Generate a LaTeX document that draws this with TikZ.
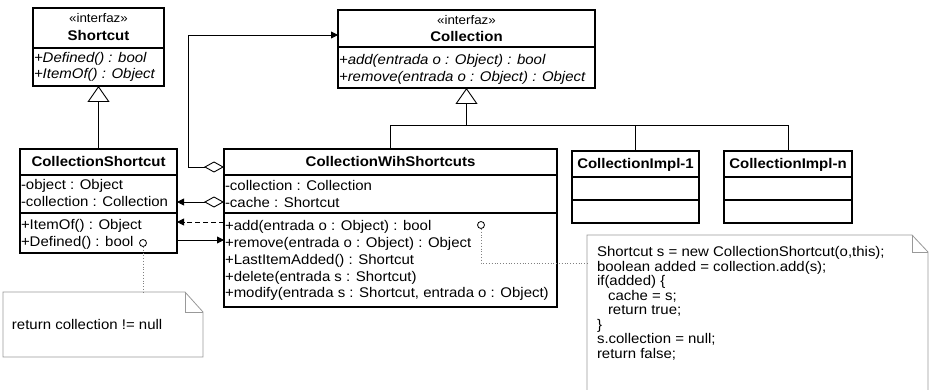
\documentclass[tikz,border=0pt]{standalone}
\usepackage{fontspec}
\setmainfont{Liberation Sans}[FakeStretch=1.07]
\usetikzlibrary{arrows.meta,calc}
\tikzset{
  box/.style={draw, line width=1.2pt, anchor=north west, inner sep=0pt, outer sep=0pt},
  sepline/.style={line width=1.2pt},
  lbl/.style={anchor=base west, inner sep=0pt, outer sep=0pt},
  ilbl/.style={lbl, font=\fontsize{14}{17}\selectfont\itshape},
  ttl/.style={anchor=base, inner sep=0pt, outer sep=0pt, font=\fontsize{14}{17}\selectfont\bfseries},
  ster/.style={anchor=base, inner sep=0pt, outer sep=0pt, font=\fontsize{12.5}{14}\selectfont},
  conn/.style={line width=0.9pt},
  nav/.style={conn, -{Triangle[length=7pt,width=7pt]}},
  agg/.style={conn, {Diamond[open,length=20pt,width=11pt]}-{Triangle[length=7pt,width=7pt]}},
  gen/.style={conn, -{Triangle[open,length=16pt,width=22pt,fill=white]}},
  dotline/.style={gray, line width=0.8pt, dotted},
  notebox/.style={anchor=north west, inner sep=0pt, outer sep=0pt},
  noteline/.style={draw=gray!80, line width=0.8pt},
  knob/.style={circle, draw, line width=0.8pt, inner sep=0pt, minimum size=7pt}
}
\begin{document}
\begin{tikzpicture}[x=1pt,y=-1pt,font=\fontsize{14}{17}\selectfont]
\useasboundingbox[fill=white] (0,0) rectangle (933,390);

% ---------- Shortcut ----------
\node[box, minimum width=131pt, minimum height=78pt] (sc) at (33,8) {};
\draw[sepline] ($(sc.north west)+(0,40)$) -- ($(sc.north east)+(0,40)$);
\node[ster] (scS) at (98.5,22.5) {«interfaz»};
\node[ttl] (scT) at (98.5,41) {Shortcut};
\node[ilbl] (scO1) at (34,62.5) {+Defined() : bool};
\node[ilbl] (scO2) at (34,78.5) {+ItemOf() : Object};

% ---------- Collection ----------
\node[box, minimum width=257pt, minimum height=78pt] (coll) at (338,10) {};
\draw[sepline] ($(coll.north west)+(0,37)$) -- ($(coll.north east)+(0,37)$);
\node[ster] (colS) at (466.5,24.5) {«interfaz»};
\node[ttl] (colT) at (466.5,42) {Collection};
\node[ilbl] (colO1) at (339,64.5) {+add(entrada o : Object) : bool};
\node[ilbl] (colO2) at (339,81.5) {+remove(entrada o : Object) : Object};

% ---------- CollectionShortcut ----------
\node[box, minimum width=157pt, minimum height=104pt] (cs) at (20,149) {};
\draw[sepline] ($(cs.north west)+(0,26)$) -- ($(cs.north east)+(0,26)$);
\draw[sepline] ($(cs.north west)+(0,64)$) -- ($(cs.north east)+(0,64)$);
\node[ttl] (csT) at (98.5,167) {CollectionShortcut};
\node[lbl] (csA1) at (21,189.5) {-object : Object};
\node[lbl] (csA2) at (21,206.5) {-collection : Collection};
\node[lbl] (csO1) at (21,229.5) {+ItemOf() : Object};
\node[lbl] (csO2) at (21,246.5) {+Defined() : bool};
\node[knob] (k1) at (143,243) {};

% ---------- CollectionWihShortcuts ----------
\node[box, minimum width=333pt, minimum height=158pt] (cws) at (224,149) {};
\draw[sepline] ($(cws.north west)+(0,26)$) -- ($(cws.north east)+(0,26)$);
\draw[sepline] ($(cws.north west)+(0,64)$) -- ($(cws.north east)+(0,64)$);
\node[ttl] (cwsT) at (390.5,167) {CollectionWihShortcuts};
\node[lbl] (cwsA1) at (225,190.5) {-collection : Collection};
\node[lbl] (cwsA2) at (225,207.5) {-cache : Shortcut};
\node[lbl] (cwsO1) at (225,230.5) {+add(entrada o : Object) : bool};
\node[lbl] (cwsO2) at (225,247.5) {+remove(entrada o : Object) : Object};
\node[lbl] (cwsO3) at (225,264.5) {+LastItemAdded() : Shortcut};
\node[lbl] (cwsO4) at (225,281.5) {+delete(entrada s : Shortcut)};
\node[lbl] (cwsO5) at (225,297.5) {+modify(entrada s : Shortcut, entrada o : Object)};
\node[knob] (k2) at (481,225) {};

% ---------- CollectionImpl-1 / -n ----------
\node[box, minimum width=127pt, minimum height=72pt] (im1) at (572,151) {};
\draw[sepline] ($(im1.north west)+(0,26)$) -- ($(im1.north east)+(0,26)$);
\draw[sepline] ($(im1.north west)+(0,49)$) -- ($(im1.north east)+(0,49)$);
\node[ttl] (im1T) at (635.5,168) {CollectionImpl-1};
\node[box, minimum width=128pt, minimum height=72pt] (imn) at (724,151) {};
\draw[sepline] ($(imn.north west)+(0,26)$) -- ($(imn.north east)+(0,26)$);
\draw[sepline] ($(imn.north west)+(0,49)$) -- ($(imn.north east)+(0,49)$);
\node[ttl] (imnT) at (788,168) {CollectionImpl-n};

% ---------- Notes ----------
\node[notebox, minimum width=200pt, minimum height=65pt] (n1) at (3,292) {};
\draw[noteline] (n1.north west) -- ($(n1.north east)+(-18,0)$) -- ($(n1.north east)+(0,20)$)
   -- (n1.south east) -- (n1.south west) -- cycle;
\draw[noteline] ($(n1.north east)+(-18,0)$) |- ($(n1.north east)+(0,20)$);
\node[lbl] (n1t) at (12,329.5) {return collection != null};

\node[notebox, minimum width=341pt, minimum height=155pt] (n2) at (587,235) {};
\draw[noteline] (n2.south west) -- (n2.north west) -- ($(n2.north east)+(-16,0)$)
   -- ($(n2.north east)+(0,17)$) -- (n2.south east);
\draw[noteline] ($(n2.north east)+(-16,0)$) |- ($(n2.north east)+(0,17)$);
\node[lbl] (n2l1) at (597,256.5) {Shortcut s = new CollectionShortcut(o,this);};
\node[lbl] (n2l2) at (597,271) {boolean added = collection.add(s);};
\node[lbl] (n2l3) at (597,285.5) {if(added) \{};
\node[lbl] (n2l4) at (608,300) {cache = s;};
\node[lbl] (n2l5) at (608,314.5) {return true;};
\node[lbl] (n2l6) at (597,329) {\}};
\node[lbl] (n2l7) at (597,343.5) {s.collection = null;};
\node[lbl] (n2l8) at (597,358) {return false;};

% ---------- Generalizations ----------
\draw[gen] (cs.north) -- (sc.south);
\coordinate (bus) at ($(coll.south)+(0,37)$);
\draw[conn] (cws.north) -- (cws.north |- bus) -- (imn.north |- bus) -- (imn.north);
\draw[conn] (im1.north) -- (im1.north |- bus);
\draw[gen] (bus) -- (coll.south);

% ---------- Associations ----------
\coordinate (a1s) at ($(cws.north west)+(0,18)$);
\coordinate (a1e) at ($(coll.north west)+(0,25)$);
\draw[agg] (a1s) -- ++(-36,0) |- (a1e);
\coordinate (a2s) at ($(cws.north west)+(0,53)$);
\draw[agg] (a2s) -- (cs.east |- a2s);
\coordinate (d1s) at ($(cws.north west)+(0,73)$);
\draw[nav, dash pattern=on 5pt off 3pt] (d1s) -- (cs.east |- d1s);
\coordinate (u1s) at ($(cs.north east)+(0,91)$);
\draw[nav] (u1s) -- (cws.west |- u1s);

% ---------- Note links ----------
\draw[dotline] (k1.south) -- (k1.south |- n1.north);
\draw[dotline] (k2.south) |- ($(n2.north west)+(0,28)$);
\end{tikzpicture}
\end{document}
